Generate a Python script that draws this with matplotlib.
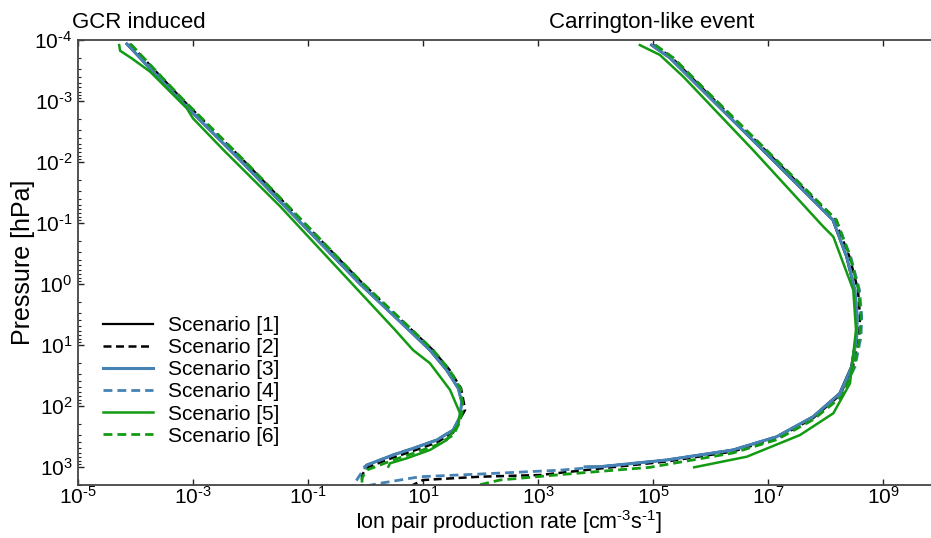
import math
import matplotlib
matplotlib.use("Agg")
import matplotlib.pyplot as plt
from matplotlib.ticker import FixedLocator, NullLocator, LogLocator, FuncFormatter

plt.rcParams['font.family'] = ['Liberation Sans', 'DejaVu Sans']
plt.rcParams['mathtext.fontset'] = 'custom'
plt.rcParams['mathtext.rm'] = 'Liberation Sans'
plt.rcParams['mathtext.it'] = 'Liberation Sans:italic'
plt.rcParams['mathtext.default'] = 'regular'

# ---- data: pressure [hPa] vs ion pair production rate [cm^-3 s^-1] ----
labels = ['Scenario [1]', 'Scenario [2]', 'Scenario [3]',
          'Scenario [4]', 'Scenario [5]', 'Scenario [6]']

# GCR induced
gcr_p1 = [1.16e-4, 9.6e-4, 9.3e-3, 9.7e-2, 1.0, 4.2, 12.2, 26, 52, 86, 151, 250, 366, 500, 645, 778, 940, 1000]
gcr_q1 = [7.0e-5, 5.8e-4, 6.5e-3, 7.2e-2, 0.79, 4.0, 13.0, 25.5, 41, 47, 44, 33.6, 17.3, 6.8, 3.0, 1.79, 1.06, 0.98]

gcr_p2 = [1.16e-4, 9.6e-4, 9.3e-3, 9.7e-2, 1.0, 4.2, 12.2, 26, 52, 117, 165, 275, 402, 550, 708, 855, 1033, 1370, 2100]
gcr_q2 = [8.0e-5, 6.6e-4, 7.4e-3, 8.2e-2, 0.90, 4.5, 14.8, 29, 46, 54, 44, 33.6, 17.3, 6.8, 3.04, 1.79, 1.06, 0.87, 0.87]

gcr_p3 = [1.16e-4, 9.6e-4, 9.3e-3, 9.7e-2, 1.0, 4.2, 12.2, 26, 52, 86, 151, 250, 366, 500, 645, 778, 940, 1000]
gcr_q3 = [7.1e-5, 5.9e-4, 6.6e-3, 7.3e-2, 0.80, 4.0, 13.2, 25.8, 41, 47, 44, 33.6, 17.3, 6.8, 3.0, 1.79, 1.06, 0.98]

gcr_p4 = [1.16e-4, 9.6e-4, 9.3e-3, 9.7e-2, 1.0, 4.2, 12.2, 26, 52, 86, 151, 250, 366, 500, 645, 778, 940, 1370, 2100]
gcr_q4 = [7.7e-5, 6.4e-4, 7.1e-3, 7.9e-2, 0.86, 4.3, 14.0, 27, 43, 48, 44, 33.6, 17.3, 6.8, 3.0, 1.79, 1.06, 0.80, 0.60]

gcr_p5 = [1.21e-4, 1.5e-4, 2.0e-4, 3.3e-4, 1.32e-3, 1.93e-3, 6.4e-3, 5.4e-2, 0.80, 5.7, 12.2, 20.1, 55, 133, 207, 366, 533, 730, 881, 1000]
gcr_q5 = [5.2e-5, 5.4e-5, 8.6e-5, 1.79e-4, 7.8e-4, 1.0e-3, 3.4e-3, 3.3e-2, 0.47, 3.26, 6.7, 13.2, 29.5, 44, 41, 25.8, 13.2, 5.2, 2.67, 2.5]

gcr_p6 = [1.16e-4, 9.6e-4, 9.3e-3, 9.7e-2, 1.0, 4.2, 12.2, 26, 52, 109, 183, 303, 442, 604, 778, 940, 1135, 1535, 2100]
gcr_q6 = [8.2e-5, 6.8e-4, 7.6e-3, 8.4e-2, 0.92, 4.6, 15, 29, 45, 49.6, 44, 33.6, 17.3, 6.8, 3.04, 1.79, 1.06, 0.87, 0.87]

# Carrington-like event
car_p1 = [1.21e-4, 1.97e-4, 6.1e-4, 6.4e-3, 8.97e-2, 0.359, 1.26, 3.47, 7.4, 22.9, 62.6, 152, 323, 533, 778, 1003, 1008]
car_q1 = [9.3e4, 1.95e5, 6.5e5, 8.0e6, 1.33e8, 2.3e8, 3.2e8, 3.5e8, 3.4e8, 2.8e8, 1.75e8, 6.0e7, 1.4e7, 2.4e6, 1.7e5, 1.2e4, 7.5e3]

car_p2 = [1.21e-4, 1.97e-4, 6.1e-4, 6.4e-3, 8.97e-2, 0.359, 1.26, 3.47, 7.4, 22.9, 66.7, 160, 341, 564, 823, 1072, 1372, 1462, 1656, 2100]
car_q2 = [1.04e5, 2.14e5, 7.1e5, 8.9e6, 1.46e8, 2.61e8, 3.67e8, 3.98e8, 3.83e8, 3.0e8, 1.79e8, 6.07e7, 1.42e7, 2.46e6, 1.73e5, 1.2e4, 1.08e3, 98, 10, 6.0]

car_p3 = [1.21e-4, 1.97e-4, 6.1e-4, 6.4e-3, 8.97e-2, 0.359, 1.26, 3.47, 7.4, 22.9, 62.6, 152, 323, 533, 778, 1003, 1008]
car_q3 = [9.5e4, 1.98e5, 6.6e5, 8.2e6, 1.35e8, 2.34e8, 3.26e8, 3.57e8, 3.49e8, 2.86e8, 1.79e8, 6.07e7, 1.42e7, 2.46e6, 1.73e5, 1.2e4, 6.6e3]

car_p4 = [1.21e-4, 1.97e-4, 6.1e-4, 6.4e-3, 8.97e-2, 0.359, 1.26, 3.47, 7.4, 22.9, 62.6, 152, 323, 533, 778, 1003, 1143, 1322, 1462, 1876, 2100]
car_q4 = [1.08e5, 2.23e5, 7.4e5, 9.2e6, 1.52e8, 2.74e8, 3.9e8, 4.27e8, 4.14e8, 3.26e8, 1.94e8, 6.07e7, 1.42e7, 2.46e6, 1.73e5, 1.2e4, 2.4e3, 98, 8.9, 1.79, 0.95]

car_p5 = [1.21e-4, 1.76e-4, 4.0e-4, 6.4e-3, 0.116, 0.169, 1.26, 5.7, 42.9, 133, 303, 687, 1025]
car_q5 = [5.9e4, 1.32e5, 3.37e5, 5.5e6, 9.2e7, 1.37e8, 3.04e8, 3.39e8, 2.67e8, 1.37e8, 3.6e7, 4.27e6, 5.2e5]

car_p6 = [1.21e-4, 1.97e-4, 6.1e-4, 6.4e-3, 8.97e-2, 0.359, 1.26, 3.47, 7.4, 22.9, 70, 170, 361, 597, 1025, 1322, 1656, 2100]
car_q6 = [1.1e5, 2.27e5, 7.5e5, 9.4e6, 1.55e8, 2.67e8, 3.75e8, 4.14e8, 3.98e8, 3.13e8, 1.94e8, 6.07e7, 1.42e7, 2.46e6, 8.9e4, 3.2e3, 218, 75]

x_ticks = [1e-5, 1e-3, 1e-1, 1e1, 1e3, 1e5, 1e7, 1e9]
y_ticks = [1e-4, 1e-3, 1e-2, 1e-1, 1e0, 1e1, 1e2, 1e3]

# ---- styles ----
black = '#000000'
blue = '#4682b4'
green = '#129a12'
dash = (0, (3.2, 1.8))
styles = [(black, '-', 1.6), (black, dash, 1.8), (blue, '-', 2.2),
          (blue, dash, 2.0), (green, '-', 1.8), (green, dash, 2.0)]

gcr = [(gcr_p1, gcr_q1), (gcr_p2, gcr_q2), (gcr_p3, gcr_q3),
       (gcr_p4, gcr_q4), (gcr_p5, gcr_q5), (gcr_p6, gcr_q6)]
car = [(car_p1, car_q1), (car_p2, car_q2), (car_p3, car_q3),
       (car_p4, car_q4), (car_p5, car_q5), (car_p6, car_q6)]

fig = plt.figure(figsize=(9.31, 5.38), dpi=100)
ax = fig.add_axes([78 / 931, 1 - 485 / 538, 862.5 / 931, 445 / 538])

for i in range(6):
    c, ls, lw = styles[i]
    ax.plot(gcr[i][1], gcr[i][0], color=c, linestyle=ls, linewidth=lw, label=labels[i])
    ax.plot(car[i][1], car[i][0], color=c, linestyle=ls, linewidth=lw)

ax.set_xscale('log')
ax.set_yscale('log')
ax.set_xlim(1e-5, 1e10)
ax.set_ylim(2000, 1e-4)

ax.xaxis.set_major_locator(FixedLocator(x_ticks))
ax.xaxis.set_minor_locator(NullLocator())
ax.yaxis.set_major_locator(FixedLocator(y_ticks))
ax.yaxis.set_minor_locator(LogLocator(base=10, subs=range(2, 10), numticks=20))


def pow_fmt(v, pos):
    e = round(math.log10(v))
    if e < 0:
        return r'$10^{\text{-}%d}$' % (-e)
    return r'$10^{%d}$' % e


ax.xaxis.set_major_formatter(FuncFormatter(pow_fmt))
ax.yaxis.set_major_formatter(FuncFormatter(pow_fmt))

ax.tick_params(which='major', direction='in', length=4, width=1, top=True, right=False,
               labelsize=15, pad=4, color='#222222')
ax.tick_params(axis='x', which='major', pad=1)
ax.tick_params(which='minor', direction='in', length=2.5, width=0.8, top=False, right=False,
               color='#222222')

for s in ['left', 'top', 'bottom']:
    ax.spines[s].set_color('#444444')
    ax.spines[s].set_linewidth(1.3)
ax.spines['right'].set_visible(False)

# x label placed by hand so it sits between the tick labels and the lower edge
fig.text(509 / 931, 1 - 529 / 538, r'Ion pair production rate [cm$^{\text{-}3}$s$^{\text{-}1}$]',
         fontsize=15.5, ha='center', va='baseline')
ax.set_ylabel('Pressure [hPa]', fontsize=18)
ax.yaxis.set_label_coords(-0.05, 0.5)

fig.text(72 / 931, 1 - 28 / 538, 'GCR induced', fontsize=16, va='baseline', ha='left')
fig.text(754 / 931, 1 - 28 / 538, 'Carrington-like event', fontsize=16, va='baseline', ha='right')

ax.legend(loc='upper left', bbox_to_anchor=(103 / 931, 1 - 316 / 538),
          bbox_transform=fig.transFigure, frameon=False, fontsize=15,
          handlelength=2.4, handletextpad=0.7, labelspacing=0.15,
          borderpad=0, borderaxespad=0)

fig.savefig('out.png', dpi=100)
